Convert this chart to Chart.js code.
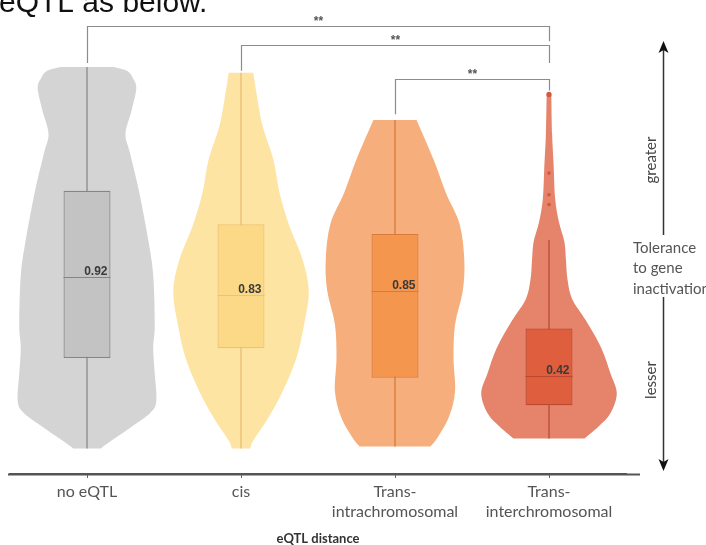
<!DOCTYPE html>
<html>
<head>
<meta charset="utf-8">
<script src="https://cdn.jsdelivr.net/npm/chart.js@4.4.1/dist/chart.umd.min.js"></script>
<style>
  html, body { margin: 0; padding: 0; background: #fff; }
  #wrap { position: relative; width: 706px; height: 545px; overflow: hidden; }
</style>
</head>
<body>
<div id="wrap"><canvas id="violin-chart" width="706" height="545"></canvas></div>
<script>
/* eQTL distance vs tolerance to gene inactivation - violin + box */

const categories = ['no eQTL', 'cis', ['Trans-', 'intrachromosomal'], ['Trans-', 'interchromosomal']];

// box plot stats
const medians     = [0.92, 0.83, 0.85, 0.42];
const q1          = [0.51, 0.56, 0.41, 0.27];
const q3          = [1.36, 1.19, 1.14, 0.66];
const whiskerLow  = [0.05, 0.05, 0.06, 0.10];
const whiskerHigh = [1.99, 1.96, 1.72, 1.11];
const outlierValues = [1.85, 1.45, 1.34, 1.29];   // all in Trans-interchromosomal

// violin outlines: value levels (top -> bottom) and half widths (fraction of category band)
const levelsNoEqtl = [1.99, 1.97, 1.93, 1.88, 1.77, 1.65, 1.55, 1.35, 1.10, 0.93, 0.68, 0.56, 0.43, 0.29, 0.23, 0.16, 0.09, 0.05];
const widthsNoEqtl = [0.17, 0.26, 0.30, 0.32, 0.29, 0.25, 0.28, 0.34, 0.40, 0.43, 0.44, 0.43, 0.44, 0.45, 0.41, 0.29, 0.16, 0.09];

const levelsCis = [1.96, 1.86, 1.69, 1.52, 1.35, 1.19, 1.01, 0.85, 0.68, 0.51, 0.34, 0.21, 0.09, 0.05];
const widthsCis = [0.08, 0.10, 0.14, 0.21, 0.25, 0.31, 0.40, 0.44, 0.41, 0.36, 0.27, 0.18, 0.08, 0.06];

const levelsIntra = [1.72, 1.52, 1.35, 1.19, 1.01, 0.85, 0.68, 0.51, 0.34, 0.21, 0.11, 0.06];
const widthsIntra = [0.14, 0.25, 0.33, 0.42, 0.45, 0.44, 0.39, 0.38, 0.39, 0.35, 0.28, 0.23];

const levelsInter = [1.85, 1.65, 1.49, 1.32, 1.20, 1.10, 1.01, 0.91, 0.81, 0.70, 0.56, 0.43, 0.33, 0.23, 0.16, 0.10];
const widthsInter = [0.015, 0.02, 0.03, 0.04, 0.065, 0.10, 0.11, 0.12, 0.15, 0.24, 0.34, 0.40, 0.44, 0.40, 0.32, 0.23];

// significance brackets (pairs of category index)
const significance = [
  { from: 0, to: 3, label: '**' },
  { from: 1, to: 3, label: '**' },
  { from: 2, to: 3, label: '**' }
];

const violins = [
  { levels: levelsNoEqtl, widths: widthsNoEqtl },
  { levels: levelsCis,    widths: widthsCis },
  { levels: levelsIntra,  widths: widthsIntra },
  { levels: levelsInter,  widths: widthsInter }
];

const violinColors  = ['#d4d4d4', '#fde4a3', '#f6af7c', '#e5836b'];
const boxColors     = ['#c3c3c3', '#fcd986', '#f4964e', '#de5e3e'];
const boxBorders    = ['#858585', '#efc270', '#d97a3c', '#b94a2f'];
const whiskerColors = ['#8a8a8a', '#ecbd72', '#d8793b', '#ba4b30'];

// bracket layout (in value units): line level, left drop end, right drop end
const bracketLevels = [2.20, 2.10, 1.93];
const bracketLeftEnd = [2.01, 1.97, 1.75];
const bracketRightEnd = [2.12, 2.01, 1.87];

function curveThrough(ctx, pts) {
  for (let i = 0; i < pts.length - 1; i++) {
    const p0 = pts[i - 1] || pts[i];
    const p1 = pts[i];
    const p2 = pts[i + 1];
    const p3 = pts[i + 2] || p2;
    ctx.bezierCurveTo(
      p1[0] + (p2[0] - p0[0]) / 6, p1[1] + (p2[1] - p0[1]) / 6,
      p2[0] - (p3[0] - p1[0]) / 6, p2[1] - (p3[1] - p1[1]) / 6,
      p2[0], p2[1]
    );
  }
}

const violinPlugin = {
  id: 'violins',
  beforeDatasetsDraw(chart) {
    const { ctx, scales: { x, y } } = chart;
    const band = x.getPixelForValue(1) - x.getPixelForValue(0);
    ctx.save();
    violins.forEach((v, i) => {
      const cx = x.getPixelForValue(i);
      const right = v.levels.map((lv, k) => [cx + v.widths[k] * band, y.getPixelForValue(lv)]);
      const left = right.map(p => [2 * cx - p[0], p[1]]).reverse();
      ctx.beginPath();
      ctx.moveTo(left[left.length - 1][0], left[left.length - 1][1]);
      ctx.lineTo(right[0][0], right[0][1]);
      curveThrough(ctx, right);
      ctx.lineTo(left[0][0], left[0][1]);
      curveThrough(ctx, left);
      ctx.closePath();
      ctx.fillStyle = violinColors[i];
      ctx.fill();

      // whisker
      ctx.beginPath();
      ctx.strokeStyle = whiskerColors[i];
      ctx.lineWidth = 1.3;
      ctx.moveTo(cx, y.getPixelForValue(whiskerHigh[i]));
      ctx.lineTo(cx, y.getPixelForValue(whiskerLow[i]));
      ctx.stroke();
    });
    ctx.restore();
  },
  afterDatasetsDraw(chart) {
    const { ctx, scales: { y } } = chart;
    const bars = chart.getDatasetMeta(0).data;
    ctx.save();
    bars.forEach((bar, i) => {
      const half = bar.width / 2;
      const my = Math.round(y.getPixelForValue(medians[i])) + 0.5;
      ctx.beginPath();
      ctx.strokeStyle = boxBorders[i];
      ctx.lineWidth = 1.2;
      ctx.moveTo(bar.x - half, my);
      ctx.lineTo(bar.x + half, my);
      ctx.stroke();

      ctx.fillStyle = '#3a3a3a';
      ctx.font = 'bold 12px "Liberation Sans", Arial, sans-serif';
      ctx.textAlign = 'right';
      ctx.textBaseline = 'alphabetic';
      ctx.fillText(medians[i].toFixed(2), bar.x + half - 3, my - 3);
    });
    ctx.restore();
  },
  afterDraw(chart) {
    const { ctx, scales: { x, y }, chartArea } = chart;
    ctx.save();

    // extend the x axis line a little past the last category
    ctx.beginPath();
    ctx.strokeStyle = '#555';
    ctx.lineWidth = 2;
    ctx.moveTo(chartArea.left - 2, chartArea.bottom + 0.5);
    ctx.lineTo(chartArea.right + 14, chartArea.bottom + 0.5);
    ctx.stroke();

    // significance brackets
    significance.forEach((s, k) => {
      const x1 = Math.round(x.getPixelForValue(s.from)) + 0.5;
      const x2 = Math.round(x.getPixelForValue(s.to)) + 0.5;
      const by = Math.round(y.getPixelForValue(bracketLevels[k])) + 0.5;
      ctx.beginPath();
      ctx.strokeStyle = '#8c8c8c';
      ctx.lineWidth = 1.2;
      ctx.moveTo(x1, y.getPixelForValue(bracketLeftEnd[k]));
      ctx.lineTo(x1, by);
      ctx.lineTo(x2, by);
      ctx.lineTo(x2, y.getPixelForValue(bracketRightEnd[k]));
      ctx.stroke();
      ctx.fillStyle = '#555';
      ctx.font = 'bold 12px "Liberation Sans", Arial, sans-serif';
      ctx.textAlign = 'center';
      ctx.textBaseline = 'middle';
      ctx.fillText(s.label, (x1 + x2) / 2, by - 5);
    });

    // right side annotation: tolerance arrow
    const ax = 663.5;
    ctx.strokeStyle = '#333';
    ctx.fillStyle = '#111';
    ctx.lineWidth = 1.5;
    ctx.beginPath();
    ctx.moveTo(ax, 50); ctx.lineTo(ax, 235);
    ctx.moveTo(ax, 297); ctx.lineTo(ax, 462);
    ctx.stroke();
    ctx.beginPath();
    ctx.moveTo(ax, 41); ctx.lineTo(ax - 5, 53); ctx.lineTo(ax, 50); ctx.lineTo(ax + 5, 53); ctx.closePath();
    ctx.fill();
    ctx.beginPath();
    ctx.moveTo(ax, 471); ctx.lineTo(ax - 5, 459); ctx.lineTo(ax, 462); ctx.lineTo(ax + 5, 459); ctx.closePath();
    ctx.fill();

    ctx.fillStyle = '#555';
    ctx.font = '15px Lato, sans-serif';
    ctx.textAlign = 'left';
    ctx.textBaseline = 'middle';
    ['Tolerance', 'to gene', 'inactivation'].forEach((t, k) => ctx.fillText(t, 633, 248 + k * 20.5));

    ctx.fillStyle = '#444';
    [['greater', 160], ['lesser', 380]].forEach(([t, ty]) => {
      ctx.save();
      ctx.translate(651, ty);
      ctx.rotate(-Math.PI / 2);
      ctx.textAlign = 'center';
      ctx.fillText(t, 0, 0);
      ctx.restore();
    });

    // caption fragment from the page above the figure
    ctx.fillStyle = '#111';
    ctx.font = '30px "Liberation Sans", Arial, sans-serif';
    ctx.textAlign = 'left';
    ctx.textBaseline = 'alphabetic';
    ctx.fillText('eQTL as below.', -1, 12);

    ctx.restore();
  }
};

const ctx = document.getElementById('violin-chart');

new Chart(ctx, {
  type: 'bar',
  data: {
    labels: categories,
    datasets: [
      {
        label: 'IQR',
        data: q1.map((v, i) => [v, q3[i]]),
        backgroundColor: boxColors,
        borderColor: boxBorders,
        borderWidth: 1.2,
        borderSkipped: false,
        barPercentage: 0.305,
        categoryPercentage: 1
      },
      {
        type: 'scatter',
        label: 'Outliers',
        data: outlierValues.map(v => ({ x: categories[3], y: v })),
        backgroundColor: '#d4583a',
        borderColor: '#d4583a',
        pointRadius: [2.6, 1.8, 1.8, 1.8],
        pointBorderWidth: 0
      }
    ]
  },
  options: {
    responsive: false,
    animation: false,
    events: [],
    layout: { padding: { left: 10, right: 80, top: 0, bottom: 0 } },
    plugins: {
      legend: { display: false },
      tooltip: { enabled: false }
    },
    scales: {
      x: {
        type: 'category',
        offset: true,
        afterFit: s => { s.height = 71; },
        grid: { display: true, drawOnChartArea: false, drawTicks: true, tickLength: 4, offset: false, color: '#666' },
        border: { display: true, color: '#555', width: 2 },
        ticks: {
          color: '#555',
          font: { family: 'Lato', size: 16, lineHeight: 1.3 },
          padding: 3,
          autoSkip: false,
          maxRotation: 0
        },
        title: {
          display: true,
          text: 'eQTL distance',
          color: '#333',
          font: { family: 'Lato', size: 13, weight: 'bold', lineHeight: 1.2 },
          padding: { top: 0, bottom: -2 }
        }
      },
      y: {
        display: false,
        min: -0.08,
        max: 2.31
      }
    }
  },
  plugins: [violinPlugin]
});
</script>
</body>
</html>
